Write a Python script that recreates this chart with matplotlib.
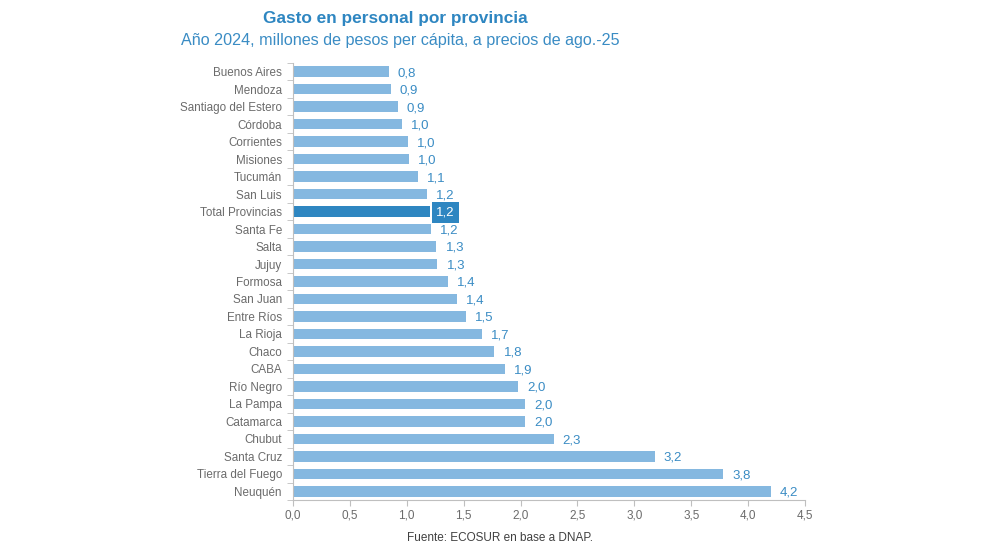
import numpy as np
import matplotlib.pyplot as plt

plt.rcParams['font.family'] = ['Liberation Sans', 'DejaVu Sans']

provincias = ['Buenos Aires', 'Mendoza', 'Santiago del Estero', 'Córdoba', 'Corrientes',
              'Misiones', 'Tucumán', 'San Luis', 'Total Provincias', 'Santa Fe', 'Salta',
              'Jujuy', 'Formosa', 'San Juan', 'Entre Ríos', 'La Rioja', 'Chaco', 'CABA',
              'Río Negro', 'La Pampa', 'Catamarca', 'Chubut', 'Santa Cruz',
              'Tierra del Fuego', 'Neuquén']
gasto = [0.84, 0.86, 0.92, 0.96, 1.01, 1.02, 1.10, 1.18, 1.20, 1.21, 1.26, 1.27, 1.36,
         1.44, 1.52, 1.66, 1.77, 1.86, 1.98, 2.04, 2.04, 2.29, 3.18, 3.78, 4.20]
destacado = 'Total Provincias'

light = '#85b8e0'
dark = '#2e86c1'
txt_blue = '#3a8cc4'
gray = '#6b6b6b'

fig = plt.figure(figsize=(9.92, 5.58), dpi=100)
ax = fig.add_axes([293 / 992, 1 - 500 / 558, (805 - 293) / 992, (500 - 63) / 558])

y = np.arange(len(provincias))
colors = [dark if p == destacado else light for p in provincias]
ax.barh(y, gasto, height=0.6, color=colors, zorder=2)

for yi, v, p in zip(y, gasto, provincias):
    s = f'{v:.1f}'.replace('.', ',')
    if p == destacado:
        ax.text(v + 0.06, yi + 0.05, s, va='center', ha='left', fontsize=9.5, color='white',
                bbox=dict(boxstyle='square,pad=0.35', fc=dark, ec='none'))
    else:
        ax.text(v + 0.08, yi + 0.08, s, va='center', ha='left', fontsize=9.5, color=txt_blue)

ax.set_ylim(len(provincias) - 0.5, -0.5)
ax.set_xlim(0, 4.5)
ax.set_xticks(np.arange(0, 4.51, 0.5))
ax.set_xticklabels([f'{t:.1f}'.replace('.', ',') for t in np.arange(0, 4.51, 0.5)])
ax.set_yticks(y)
ax.set_yticklabels(provincias)
ax.set_yticks(np.arange(-0.5, len(provincias), 1), minor=True)

for s in ['top', 'right']:
    ax.spines[s].set_visible(False)
for s in ['left', 'bottom']:
    ax.spines[s].set_color('#bfbfbf')
ax.tick_params(axis='y', which='major', length=0, labelsize=8.4, labelcolor=gray, pad=8)
ax.tick_params(axis='y', which='minor', length=4, color='#bfbfbf')
ax.tick_params(axis='x', length=4, color='#bfbfbf', labelsize=8.5, labelcolor=gray, pad=3)

fig.text(395 / 992, 1 - 19 / 558, 'Gasto en personal por provincia', ha='center', va='center',
         fontsize=12.4, fontweight='bold', color=dark)
fig.text(400 / 992, 1 - 41 / 558, 'Año 2024, millones de pesos per cápita, a precios de ago.-25',
         ha='center', va='center', fontsize=11.6, color=txt_blue)
fig.text(500 / 992, 1 - 538 / 558, 'Fuente: ECOSUR en base a DNAP.', ha='center', va='center',
         fontsize=8.5, color='#404040')

fig.savefig('out.png', dpi=100)
